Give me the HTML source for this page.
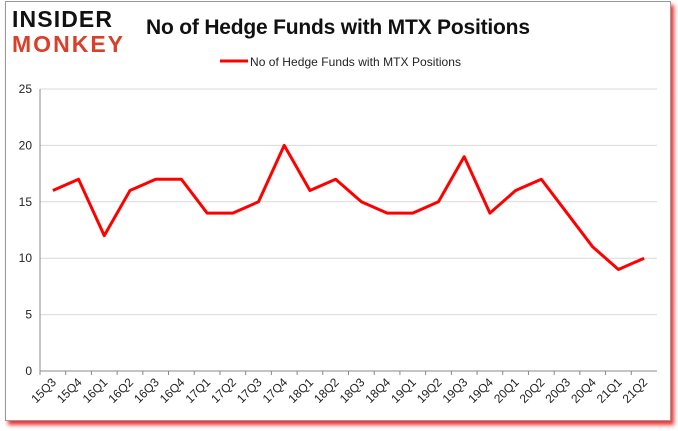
<!DOCTYPE html>
<html><head><meta charset="utf-8"><style>
body{margin:0;background:#fff;width:678px;height:431px;overflow:hidden;font-family:"Liberation Sans",sans-serif}
#frame{position:absolute;left:5px;top:1px;width:664px;height:418px;border:1px solid #999;background:#fff;box-shadow:3px 4px 4px #e33}
</style></head><body>
<div id="frame"></div>
<svg id="c" width="678" height="431" style="position:absolute;left:0;top:0">
<text x="12" y="27" font-size="23" font-weight="bold" fill="#111" font-family="Liberation Sans" textLength="100">INSIDER</text>
<text x="12" y="52" font-size="23" font-weight="bold" fill="#d9402a" font-family="Liberation Sans" textLength="111">MONKEY</text>
<text x="146" y="34" font-size="21" font-weight="bold" fill="#111" textLength="384">No of Hedge Funds with MTX Positions</text>
<line x1="220" y1="61" x2="248" y2="61" stroke="#f00" stroke-width="3"/>
<text x="250" y="66" font-size="12" fill="#222" textLength="211">No of Hedge Funds with MTX Positions</text>
<g id="g"></g>
</svg>
<script>
const categories=["15Q3","15Q4","16Q1","16Q2","16Q3","16Q4","17Q1","17Q2","17Q3","17Q4","18Q1","18Q2","18Q3","18Q4","19Q1","19Q2","19Q3","19Q4","20Q1","20Q2","20Q3","20Q4","21Q1","21Q2"];
const values=[16,17,12,16,17,17,14,14,15,20,16,17,15,14,14,15,19,14,16,17,14,11,9,10];
const yTicks=[0,5,10,15,20,25];
const X0=40,X1=657,Y0=371,Y1=89,YMAX=25;
const bw=(X1-X0)/categories.length;
const xs=i=>X0+bw*(i+0.5);
const ys=v=>Y0-(Y0-Y1)*v/YMAX;
const g=document.getElementById('g');const NS="http://www.w3.org/2000/svg";
function mk(t,a){const e=document.createElementNS(NS,t);for(const k in a)e.setAttribute(k,a[k]);g.appendChild(e);return e;}
yTicks.forEach(v=>{
 if(v>0){const l=mk('line',{x1:X0,x2:X1,y1:ys(v),y2:ys(v),stroke:'#d9d9d9'});
 
 }
 const t=mk('text',{x:X0-8,y:ys(v)+4,'font-size':12,'text-anchor':'end',fill:'#222'});t.textContent=v;
 
 
});
const ax=mk('line',{x1:X0,x2:X1,y1:Y0,y2:Y0,stroke:'#888'});


const ay=mk('line',{x1:X0,x2:X0,y1:Y1,y2:Y0,stroke:'#888'});


categories.forEach((c,i)=>{
 const tk=mk('line',{x1:X0+bw*i,x2:X0+bw*i,y1:Y0,y2:Y0+4,stroke:'#888'});
 
 
 const x=xs(i)+4,y=Y0+12;
 const t=mk('text',{x:x,y:y,'font-size':12,'text-anchor':'end',fill:'#222',transform:`rotate(-45 ${x} ${y})`});t.textContent=c;
 
 
});
const p=mk('polyline',{points:values.map((v,i)=>xs(i)+','+ys(v)).join(' '),fill:'none',stroke:'#f00','stroke-width':3,'stroke-linejoin':'round'});


</script>
</body></html>
